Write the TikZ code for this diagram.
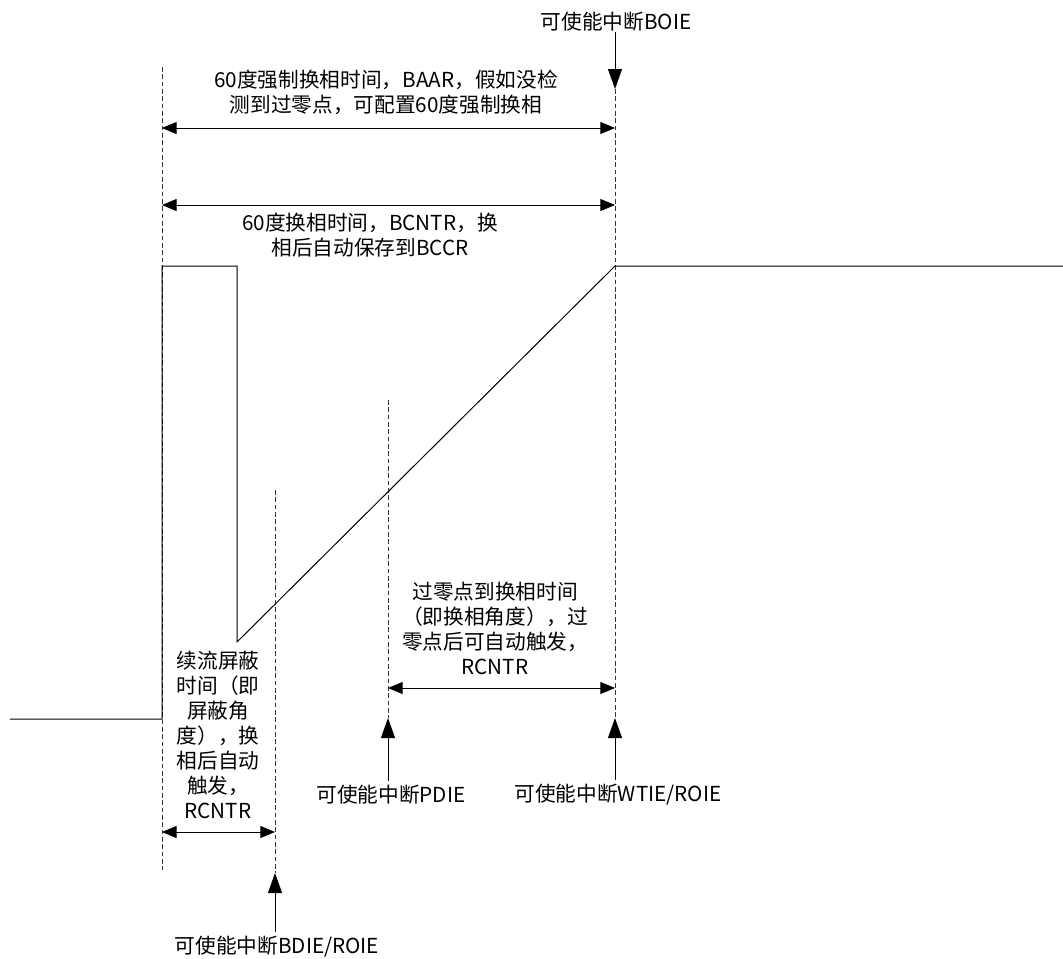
\documentclass[tikz,border=0pt]{standalone}
\usepackage{fontspec}
\setmainfont{Noto Sans CJK SC}
\usetikzlibrary{arrows.meta, positioning}
\tikzstyle{dim} = [{Triangle[length=11pt,width=9pt]}-{Triangle[length=11pt,width=9pt]}, line width=0.75pt]

\begin{document}
\begin{tikzpicture}[
	x=0.75pt, y=-0.75pt,
	guide/.style={dash pattern=on 3.5pt off 2pt, line width=0.75pt, black!80},
	signal/.style={line width=0.75pt},
	irq/.style={-{Triangle[length=15pt,width=10.5pt]}, line width=0.75pt},
	note/.style={font=\fontsize{15.5pt}{18.75pt}\selectfont, align=center, inner sep=0pt}
]
\useasboundingbox (0,0) rectangle (1063,958);

% Guide lines
\coordinate (A1) at (162,67);  \coordinate (A2) at (162,870);
\coordinate (B1) at (275,490); \coordinate (B2) at (275,873);
\coordinate (C1) at (388,400); \coordinate (C2) at (388,718);
\coordinate (D1) at (615,89);  \coordinate (D2) at (615,718);
\draw[guide] (A1) -- (A2);
\draw[guide] (B1) -- (B2);
\draw[guide] (C1) -- (C2);
\draw[guide] (D1) -- (D2);

% Phase signal
\coordinate (W0) at (10,719);
\coordinate (W1) at (162,719);
\coordinate (W2) at (162,266);
\coordinate (W3) at (237,266);
\coordinate (W4) at (237,642);
\coordinate (W5) at (615,266);
\coordinate (W6) at (1063,266);
\draw[signal] (W0) -- (W1) -- (W2) -- (W3) -- (W4) -- (W5) -- (W6);

% 60 degree forced commutation
\coordinate (F1) at (162,128); \coordinate (F2) at (615,128);
\draw[dim] (F1) -- (F2);
\node[note] (BAAR) at (386,92) {60度强制换相时间，BAAR，假如没检\\测到过零点，可配置60度强制换相};

% 60 degree commutation
\coordinate (G1) at (162,205); \coordinate (G2) at (615,205);
\draw[dim] (G1) -- (G2);
\node[note] (BCNTR) at (370,235) {60度换相时间，BCNTR，换\\相后自动保存到BCCR};

% Freewheel blanking
\coordinate (K1) at (162,832); \coordinate (K2) at (275,832);
\draw[dim] (K1) -- (K2);
\node[note] (Blank) at (218,735) {续流屏蔽\\时间（即\\屏蔽角\\度），换\\相后自动\\触发，\\RCNTR};

% Zero crossing to commutation
\coordinate (Z1) at (388,688); \coordinate (Z2) at (615,688);
\draw[dim] (Z1) -- (Z2);
\node[note] (Zero) at (495,628) {过零点到换相时间\\（即换相角度），过\\零点后可自动触发，\\RCNTR};

% Interrupt enables
\node[note] (BOIE) at (616,22) {可使能中断BOIE};
\draw[irq] (BOIE.south -| D1) -- (D1);

\node[note] (PDIE) at (391,795) {可使能中断PDIE};
\draw[irq] ([yshift=3pt]PDIE.north -| C2) -- (C2);

\node[note] (WTIE) at (618,795) {可使能中断WTIE/ROIE};
\draw[irq] ([yshift=3pt]WTIE.north -| D2) -- (D2);

\node[note] (BDIE) at (277,947) {可使能中断BDIE/ROIE};
\draw[irq] ([yshift=3pt]BDIE.north -| B2) -- (B2);
\end{tikzpicture}
\end{document}
